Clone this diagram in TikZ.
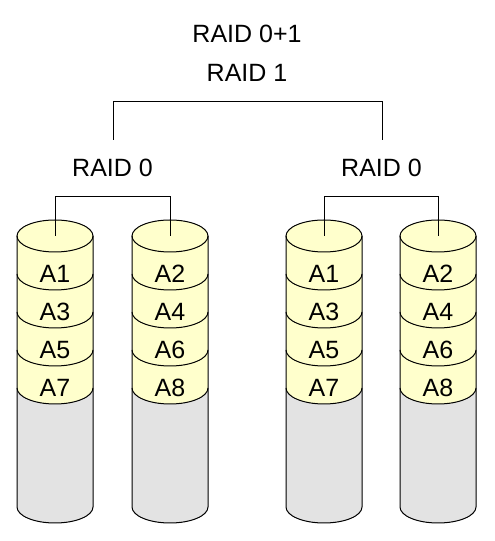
\documentclass[tikz,border=0pt]{standalone}
\usepackage{fontspec}
\setmainfont{Liberation Sans}
\definecolor{diskyellow}{RGB}{255,255,204}
\definecolor{diskgray}{RGB}{227,227,227}
\tikzset{
  lbl/.style={inner sep=0pt, font=\fontsize{25}{30}\selectfont},
  wire/.style={line width=1pt, black},
  disk/.pic={
    \fill[diskgray] (-38,0) -- (-38,-271) arc[start angle=180,end angle=360,x radius=38pt,y radius=16pt] -- (38,0) -- cycle;
    \fill[diskyellow] (-38,0) arc[start angle=180,end angle=0,x radius=38pt,y radius=16pt] -- (38,-152) arc[start angle=360,end angle=180,x radius=38pt,y radius=16pt] -- cycle;
    \draw[wire] (0,0) ellipse[x radius=38pt,y radius=16pt];
    \foreach \k in {1,2,3,4}
      \draw[wire] (-38,-38*\k) arc[start angle=180,end angle=360,x radius=38pt,y radius=16pt];
    \draw[wire] (-38,0) -- (-38,-271) arc[start angle=180,end angle=360,x radius=38pt,y radius=16pt] -- (38,0);
    \coordinate (-top) at (0,0);
  }
}
\begin{document}
\begin{tikzpicture}[x=1pt,y=1pt]
\useasboundingbox (0,0) rectangle (495,541);
\fill[white] (0,0) rectangle (495,541);
% disks
\pic (d1) at (55,305) {disk};
\pic (d2) at (170,305) {disk};
\pic (d3) at (324,305) {disk};
\pic (d4) at (438,305) {disk};
% block labels
\foreach \n/\x/\a/\b/\c/\d in {1/55/A1/A3/A5/A7, 2/170/A2/A4/A6/A8, 3/324/A1/A3/A5/A7, 4/438/A2/A4/A6/A8}{
  \node[lbl] (b\n a) at (\x,267) {\a};
  \node[lbl] (b\n b) at (\x,229) {\b};
  \node[lbl] (b\n c) at (\x,191) {\c};
  \node[lbl] (b\n d) at (\x,153) {\d};
}
% titles
\node[lbl, anchor=base] (t01) at (247,498) {RAID 0+1};
\node[lbl, anchor=base] (t1) at (247,459) {RAID 1};
\node[lbl, anchor=base] (r0a) at (112.5,364) {RAID 0};
\node[lbl, anchor=base] (r0b) at (381.5,364) {RAID 0};
% brackets
\coordinate (r0atop) at (113,401);
\coordinate (r0btop) at (382,401);
\draw[wire] (r0atop) -- ++(0,38) -| (r0btop);
\draw[wire] (d1-top) -- ++(0,39) -| (d2-top);
\draw[wire] (d3-top) -- ++(0,39) -| (d4-top);
\end{tikzpicture}
\end{document}
